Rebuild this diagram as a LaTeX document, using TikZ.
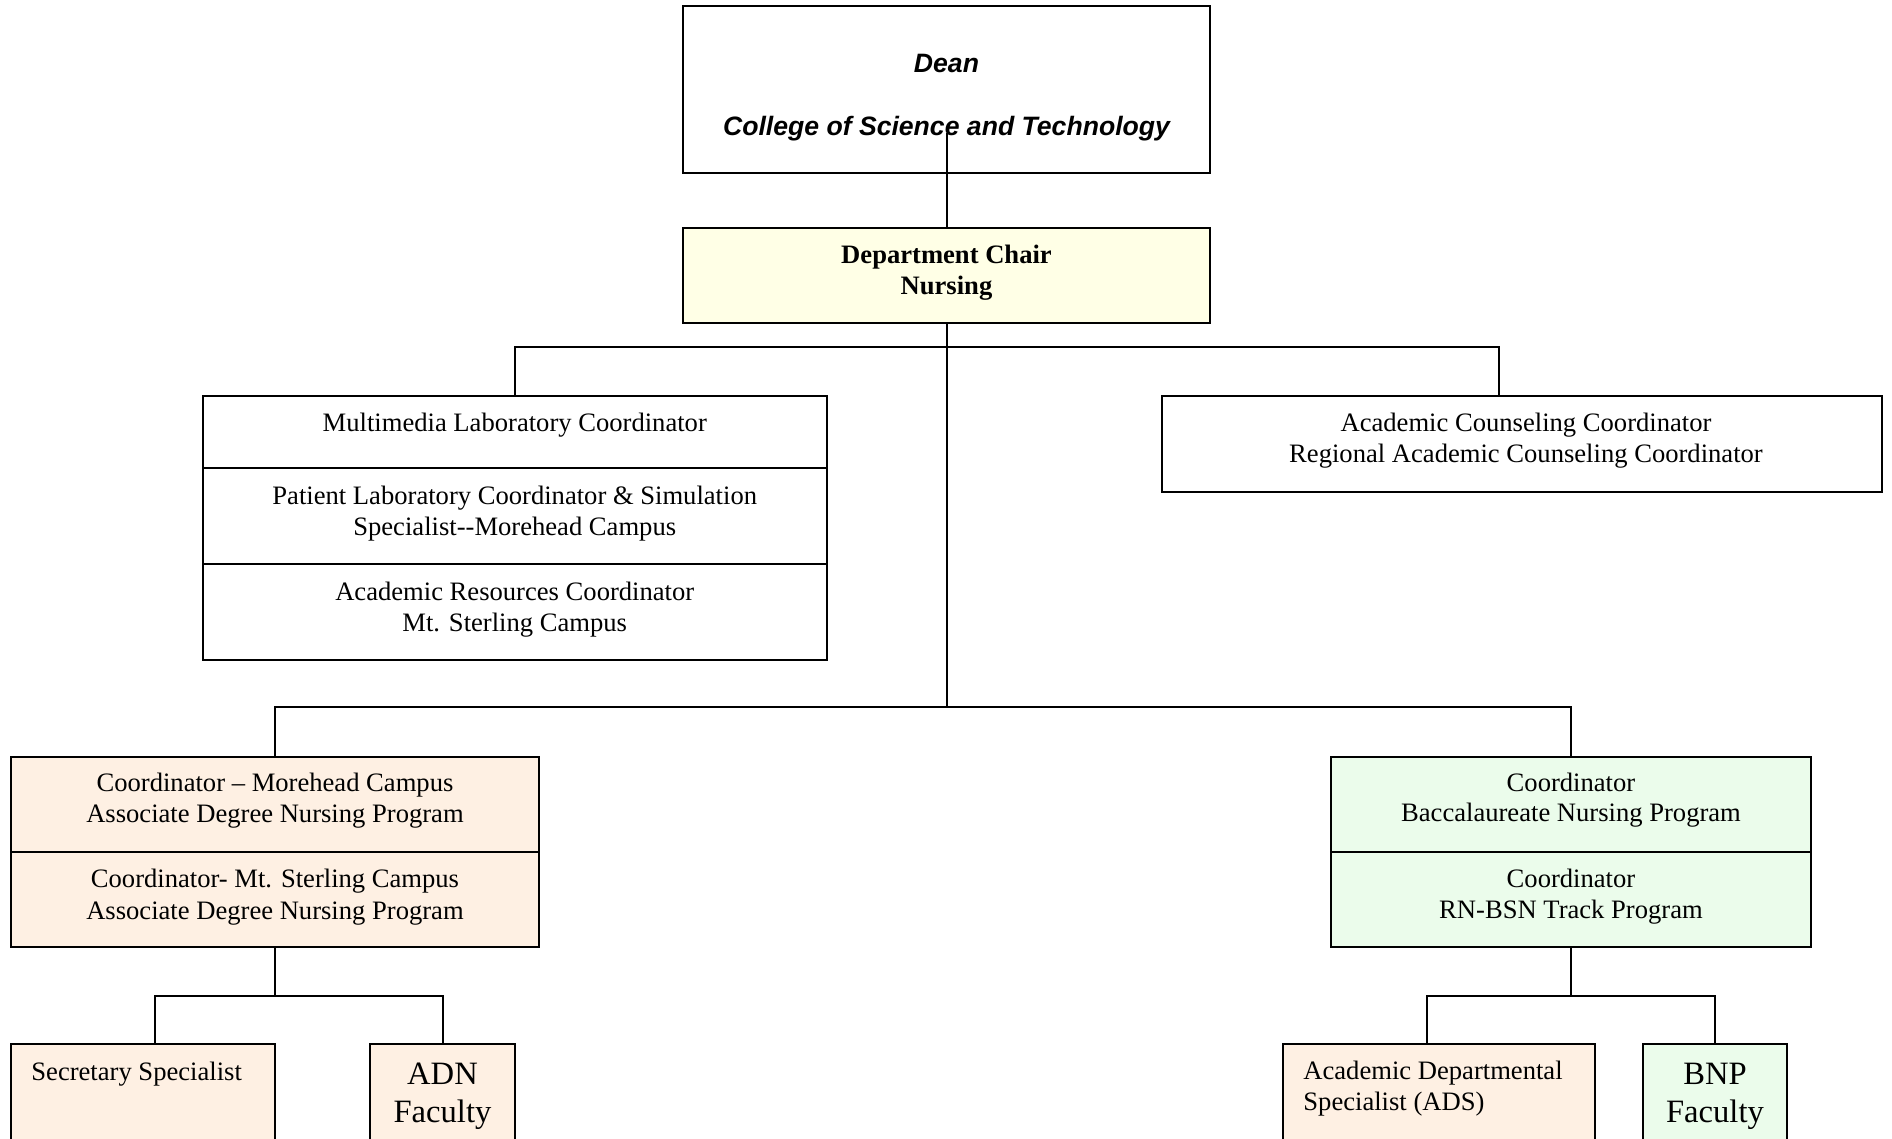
\documentclass[tikz,border=0pt]{standalone}
\usepackage{fontspec}
\setmainfont{Liberation Serif}
\newfontfamily\arialf{Liberation Sans}
\definecolor{peach}{RGB}{254,240,227}
\definecolor{mint}{RGB}{235,252,235}
\definecolor{cream}{RGB}{255,255,230}
\begin{document}
\begin{tikzpicture}[x=0.5pt,y=-0.5pt,
  box/.style={draw=black,line width=1pt,inner sep=0pt,outer sep=0pt,fill=white},
  conn/.style={draw=black,line width=1pt},
  txt/.style={font=\fontsize{13.3}{15.7}\selectfont,inner sep=0pt,anchor=base},
  btxt/.style={font=\fontsize{13.3}{15.7}\selectfont\bfseries,inner sep=0pt,anchor=base},
  dtxt/.style={font=\arialf\fontsize{13.3}{15.7}\selectfont\bfseries\itshape,inner sep=0pt,anchor=base},
  bigtxt/.style={font=\fontsize{16.3}{19}\selectfont,inner sep=0pt,anchor=base},
  ltxt/.style={font=\fontsize{13.3}{15.7}\selectfont,inner sep=0pt,anchor=base west}]
\clip (0,0) rectangle (1892,1139);
\fill[white] (0,0) rectangle (1892,1139);
% boxes
\node[box,minimum width=263.5pt,minimum height=83.5pt] (dean) at (946.5,89.5) {};
\node[box,fill=cream,minimum width=263.5pt,minimum height=47.5pt] (chair) at (946.5,275.5) {};
\node[box,minimum width=311.75pt,minimum height=36pt] (mm) at (514.75,432) {};
\node[box,minimum width=311.75pt,minimum height=47.75pt] (pl) at (514.75,515.75) {};
\node[box,minimum width=311.75pt,minimum height=48.25pt] (ar) at (514.75,611.75) {};
\node[box,minimum width=360pt,minimum height=48pt] (ac) at (1522,444) {};
\node[box,fill=peach,minimum width=264pt,minimum height=47.75pt] (cl1) at (275,804.25) {};
\node[box,fill=peach,minimum width=264pt,minimum height=47.5pt] (cl2) at (275,899.5) {};
\node[box,fill=mint,minimum width=240pt,minimum height=47.75pt] (cr1) at (1571,804.25) {};
\node[box,fill=mint,minimum width=240pt,minimum height=47.5pt] (cr2) at (1571,899.5) {};
\node[box,fill=peach,minimum width=132pt,minimum height=78pt] (sec) at (143,1122) {};
\node[box,fill=peach,minimum width=72.5pt,minimum height=78pt] (adn) at (442.5,1122) {};
\node[box,fill=peach,minimum width=156pt,minimum height=78pt] (ads) at (1439,1122) {};
\node[box,fill=mint,minimum width=72pt,minimum height=78pt] (bnp) at (1715,1122) {};
% connectors
\coordinate (deanin) at (946.5,133);
\coordinate (b1) at (946.5,347.5);
\coordinate (b2) at (946.5,707);
\coordinate (b3l) at (275,995.5);
\coordinate (b3r) at (1571,995.5);
\draw[conn] (deanin) -- (chair.north);
\draw[conn] (chair.south) -- (b2);
\draw[conn] (mm.north) |- (b1) -| ([xshift=-11.7pt]ac.north);
\draw[conn] (cl1.north) |- (b2) -| (cr1.north);
\draw[conn] (cl2.south) -- (b3l);
\draw[conn] ([xshift=5.75pt]sec.north) |- (b3l) -| (adn.north);
\draw[conn] (cr2.south) -- (b3r);
\draw[conn] ([xshift=-6pt]ads.north) |- (b3r) -| (bnp.north);
% texts
\node[dtxt] (t1) at (946.5,73) {Dean};
\node[dtxt] (t2) at (946.5,136) {College of Science and Technology};
\node[btxt] (t3) at (946.5,264) {Department Chair};
\node[btxt] (t4) at (946.5,295) {Nursing};
\node[txt] (t5) at (514.75,431) {Multimedia Laboratory Coordinator};
\node[txt] (t6) at (514.75,504) {Patient Laboratory Coordinator \& Simulation};
\node[txt] (t7) at (514.75,535) {Specialist-{}-Morehead Campus};
\node[txt] (t8) at (514.75,600) {Academic Resources Coordinator};
\node[txt] (t9) at (514.75,631) {Mt. Sterling Campus};
\node[txt] (t10) at (1526,431) {Academic Counseling Coordinator};
\node[txt] (t11) at (1526,463) {Regional Academic Counseling Coordinator};
\node[txt] (t12) at (275,791) {Coordinator – Morehead Campus};
\node[txt] (t13) at (275,822) {Associate Degree Nursing Program};
\node[txt] (t14) at (275,887) {Coordinator- Mt. Sterling Campus};
\node[txt] (t15) at (275,919) {Associate Degree Nursing Program};
\node[txt] (t16) at (1571,791) {Coordinator};
\node[txt] (t17) at (1571,821) {Baccalaureate Nursing Program};
\node[txt] (t18) at (1571,887) {Coordinator};
\node[txt] (t19) at (1571,918) {RN-BSN Track Program};
\node[ltxt] (t20) at (31,1080) {Secretary Specialist};
\node[ltxt] (t21) at (1303,1079) {Academic Departmental};
\node[ltxt] (t22) at (1303,1110) {Specialist (ADS)};
\node[bigtxt] (t23) at (442.5,1084) {ADN};
\node[bigtxt] (t24) at (442.5,1122) {Faculty};
\node[bigtxt] (t25) at (1715,1084) {BNP};
\node[bigtxt] (t26) at (1715,1122) {Faculty};
\end{tikzpicture}
\end{document}
